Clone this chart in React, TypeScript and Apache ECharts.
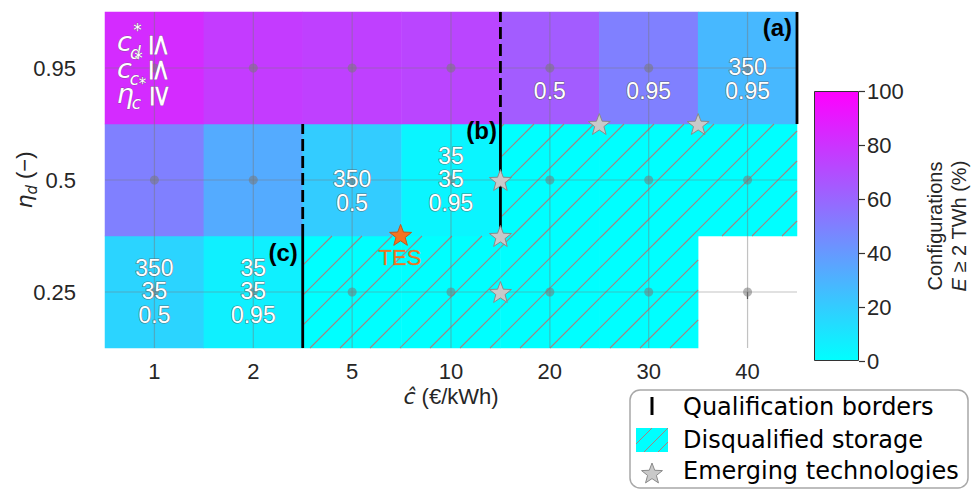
import React, { useEffect, useRef } from 'react';
import * as echarts from 'echarts';

// ---------- data ----------
const xCategories = ['1', '2', '5', '10', '20', '30', '40'];
const yCategories = ['0.25', '0.5', '0.95'];
// share of configurations with E >= 2 TWh (%), per row (eta_d)
const row025: (number | null)[] = [17, 6, 0, 0, 0, 0, null];
const row05: (number | null)[] = [50, 33, 20, 4, 0, 0, 0];
const row095: (number | null)[] = [83, 77, 75, 73, 64, 50, 28];
// disqualified cells [xIndex, yIndex]
const hatchedCells = [[4, 1], [5, 1], [6, 1], [2, 0], [3, 0], [4, 0], [5, 0]];
// qualification borders [x (between categories), yFrom, yTo, dashed]
const borderLines = [
  [3.5, 1.5, 2.5, 1],
  [6.5, 1.5, 2.5, 0],
  [1.5, 0.5, 1.5, 1],
  [3.5, 0.5, 1.5, 0],
  [1.5, -0.5, 0.5, 0],
];
// thresholds written in the cells: c_d*, c_c*, eta_c
const cellTexts = [
  { x: 0, y: 0, lines: ['350', '35', '0.5'] },
  { x: 1, y: 0, lines: ['35', '35', '0.95'] },
  { x: 2, y: 1, lines: ['', '350', '0.5'] },
  { x: 3, y: 1, lines: ['35', '35', '0.95'] },
  { x: 4, y: 2, lines: ['', '', '0.5'] },
  { x: 5, y: 2, lines: ['', '', '0.95'] },
  { x: 6, y: 2, lines: ['', '350', '0.95'] },
];
const emergingTech = [[4.5, 1.5], [5.5, 1.5], [3.5, 1], [3.5, 0.5], [3.5, 0]];
const tesPoint = [2.49, 0.51];
const tesLabel = { text: 'TES', x: 2.484, y: 0.31 };
const panelLabels = [
  { text: '(a)', x: 6.45, y: 2.36 },
  { text: '(b)', x: 3.465, y: 1.44 },
  { text: '(c)', x: 1.45, y: 0.35 },
];
const colorbarMin = 0;
const colorbarMax = 100;
const colorbarStep = 20;
const legendItems = ['Qualification borders', 'Disqualified storage', 'Emerging technologies'];

// ---------- helpers ----------
const STAR_D = (() => {
  const pts: string[] = [];
  for (let i = 0; i < 10; i++) {
    const r = i % 2 === 0 ? 1 : 0.42;
    const a = -Math.PI / 2 + (i * Math.PI) / 5;
    pts.push((r * Math.cos(a)).toFixed(4) + ',' + (r * Math.sin(a)).toFixed(4));
  }
  return 'M' + pts.join('L') + 'Z';
})();
const STAR = 'path://' + STAR_D;

const SANS = 'Liberation Sans, Arial, sans-serif';
const DEJAVU = 'DejaVu Sans, sans-serif';
const HATCH = '#a88080';

export default function App() {
  const ref = useRef<HTMLDivElement>(null);

  useEffect(() => {
    echarts.graphic.registerShape('starShape', echarts.graphic.extendPath(STAR_D, {}) as any);
    const chart = echarts.init(ref.current!, null, { renderer: 'svg' });

    const rows = [row025, row05, row095];
    const heatData: number[][] = [];
    rows.forEach((row, yi) =>
      row.forEach((v, xi) => {
        if (v !== null) heatData.push([xi, yi, v]);
      })
    );
    const dots: number[][] = [];
    yCategories.forEach((_, yi) => xCategories.forEach((__, xi) => dots.push([xi, yi])));

    const legendText = (text: string, y: number) => ({
      type: 'text',
      x: 683,
      y,
      style: { text, fontSize: 24, fontFamily: DEJAVU, fill: '#000', verticalAlign: 'middle' },
    });

    const option: any = {
      animation: false,
      backgroundColor: '#ffffff',
      textStyle: { fontFamily: SANS },
      grid: [
        { left: 105, top: 12, width: 692, height: 336, outerBoundsMode: 'none', containLabel: false },
        { left: 814, top: 91, width: 45, height: 270, outerBoundsMode: 'none', containLabel: false },
      ],
      xAxis: [
        {
          type: 'category',
          gridIndex: 0,
          data: xCategories,
          axisLine: { show: false },
          axisTick: { show: true, alignWithLabel: true, length: 7, lineStyle: { color: '#333', width: 1.2 } },
          axisLabel: { fontSize: 22, color: '#262626', margin: 12, fontFamily: SANS },
          splitLine: { show: false },
          name: '{i|ĉ}{n| (€/kWh)}',
          nameLocation: 'middle',
          nameGap: 37,
          nameMoveOverlap: false,
          nameTextStyle: {
            rich: {
              i: { fontSize: 22, fontStyle: 'italic', fontFamily: DEJAVU, color: '#262626' },
              n: { fontSize: 22, fontFamily: SANS, color: '#262626' },
            },
          },
        },
        { type: 'value', gridIndex: 0, min: -0.5, max: 6.5, show: false },
        { type: 'category', gridIndex: 1, data: ['cb'], show: false },
      ],
      yAxis: [
        {
          type: 'category',
          gridIndex: 0,
          data: yCategories,
          axisLine: { show: false },
          axisTick: { show: true, alignWithLabel: true, length: 8, lineStyle: { color: '#333', width: 1.2 } },
          axisLabel: { fontSize: 22, color: '#262626', margin: 29, fontFamily: SANS },
          splitLine: { show: false },
          name: '{i|η}{s|d}{n| (−)}',
          nameLocation: 'middle',
          nameRotate: 90,
          nameGap: 66,
          nameMoveOverlap: false,
          nameTextStyle: {
            rich: {
              i: { fontSize: 22, fontStyle: 'italic', fontFamily: DEJAVU, color: '#262626', lineHeight: 30, verticalAlign: 'middle' },
              s: { fontSize: 15, fontStyle: 'italic', fontFamily: DEJAVU, color: '#262626', lineHeight: 14, verticalAlign: 'bottom' },
              n: { fontSize: 22, fontFamily: SANS, color: '#262626', lineHeight: 30, verticalAlign: 'middle' },
            },
          },
        },
        { type: 'value', gridIndex: 0, min: -0.5, max: 2.5, show: false },
        {
          type: 'value',
          gridIndex: 1,
          min: colorbarMin,
          max: colorbarMax,
          interval: colorbarStep,
          position: 'right',
          axisLine: { show: false },
          axisTick: { show: true, length: 6, lineStyle: { color: '#333', width: 1.2 } },
          axisLabel: { fontSize: 22, color: '#262626', margin: 8, fontFamily: SANS },
          splitLine: { show: false },
          name: '{n|Configurations}\n{i|E}{n| ≥ 2 TWh (%)}',
          nameLocation: 'middle',
          nameRotate: 90,
          nameGap: 64,
          nameMoveOverlap: false,
          nameTextStyle: {
            rich: {
              n: { fontSize: 20, fontFamily: SANS, color: '#262626', lineHeight: 24 },
              i: { fontSize: 20, fontStyle: 'italic', fontFamily: SANS, color: '#262626', lineHeight: 24 },
            },
          },
        },
      ],
      visualMap: {
        type: 'continuous',
        show: false,
        min: colorbarMin,
        max: colorbarMax,
        dimension: 2,
        seriesIndex: 0,
        inRange: { color: ['#00ffff', '#ff00ff'] },
      },
      series: [
        {
          type: 'heatmap',
          xAxisIndex: 0,
          yAxisIndex: 0,
          data: heatData,
          z: 1,
          itemStyle: { borderWidth: 0 },
          emphasis: { disabled: true },
          silent: true,
        },
        {
          type: 'custom',
          xAxisIndex: 1,
          yAxisIndex: 1,
          z: 2,
          silent: true,
          data: hatchedCells,
          renderItem: (params: any, api: any) => {
            const xi = api.value(0);
            const yi = api.value(1);
            const tl = api.coord([xi - 0.5, yi + 0.5]);
            const br = api.coord([xi + 0.5, yi - 0.5]);
            const x0 = tl[0], y0 = tl[1], x1 = br[0], y1 = br[1];
            const s = 30;
            const off = 28;
            const children: any[] = [];
            for (let c = Math.ceil((x0 + y0 - off) / s) * s + off; c <= x1 + y1; c += s) {
              const xa = Math.max(x0, c - y1);
              const xb = Math.min(x1, c - y0);
              if (xb > xa) {
                children.push({
                  type: 'line',
                  shape: { x1: xa, y1: c - xa, x2: xb, y2: c - xb },
                  style: { stroke: HATCH, lineWidth: 1.1 },
                });
              }
            }
            return { type: 'group', children };
          },
        },
        {
          type: 'custom',
          xAxisIndex: 1,
          yAxisIndex: 1,
          z: 3,
          silent: true,
          data: [[0, 0]],
          renderItem: (params: any, api: any) => {
            const children: any[] = [];
            const st = { stroke: 'rgba(120,120,120,0.45)', lineWidth: 1.2 };
            xCategories.forEach((_, xi) => {
              const a = api.coord([xi, -0.5]);
              const b = api.coord([xi, 2.5]);
              children.push({ type: 'line', shape: { x1: a[0], y1: a[1], x2: b[0], y2: b[1] }, style: st });
            });
            yCategories.forEach((_, yi) => {
              const a = api.coord([-0.5, yi]);
              const b = api.coord([6.5, yi]);
              children.push({ type: 'line', shape: { x1: a[0], y1: a[1], x2: b[0], y2: b[1] }, style: st });
            });
            return { type: 'group', children };
          },
        },
        {
          type: 'scatter',
          xAxisIndex: 0,
          yAxisIndex: 0,
          z: 4,
          silent: true,
          data: dots,
          symbol: 'circle',
          symbolSize: 9,
          itemStyle: { color: 'rgba(120,120,120,0.55)', opacity: 1 },
        },
        {
          type: 'custom',
          xAxisIndex: 1,
          yAxisIndex: 1,
          z: 5,
          silent: true,
          data: borderLines,
          renderItem: (params: any, api: any) => {
            const a = api.coord([api.value(0), api.value(1)]);
            const b = api.coord([api.value(0), api.value(2)]);
            return {
              type: 'line',
              shape: { x1: a[0], y1: a[1], x2: b[0], y2: b[1] },
              style: { stroke: '#000', lineWidth: 2.8, lineDash: api.value(3) ? [12, 5] : null },
            };
          },
        },
        {
          type: 'custom',
          xAxisIndex: 1,
          yAxisIndex: 1,
          z: 6,
          silent: true,
          data: cellTexts.map((c, i) => [c.x, c.y, i]),
          renderItem: (params: any, api: any) => {
            const p = api.coord([api.value(0), api.value(1)]);
            const item = cellTexts[api.value(2)];
            const offsets = [-24, -1, 23];
            const children: any[] = [];
            item.lines.forEach((t, k) => {
              if (!t) return;
              children.push({
                type: 'text',
                x: p[0],
                y: p[1] + offsets[k],
                style: {
                  text: t,
                  fill: '#ffffff',
                  stroke: 'rgba(90,90,90,0.75)',
                  lineWidth: 1.2,
                  fontSize: 23,
                  fontFamily: SANS,
                  align: 'center',
                  verticalAlign: 'middle',
                },
              });
            });
            return { type: 'group', children };
          },
        },
        {
          type: 'custom',
          xAxisIndex: 1,
          yAxisIndex: 1,
          z: 6,
          silent: true,
          data: [[0, 2]],
          renderItem: (params: any, api: any) => {
            const p = api.coord([api.value(0), api.value(1)]);
            const W = { fill: '#ffffff', stroke: 'rgba(90,90,90,0.6)', lineWidth: 0.8, fontFamily: DEJAVU, align: 'center', verticalAlign: 'middle' };
            const t = (text: string, dx: number, dy: number, size: number, italic: boolean, rot = 0) => ({
              type: 'text',
              x: p[0] + dx,
              y: p[1] + dy,
              rotation: rot,
              style: { ...W, text, fontSize: size, fontStyle: italic ? 'italic' : 'normal' },
            });
            const R = -Math.PI / 2;
            return {
              type: 'group',
              children: [
                t('c', -30, -27, 27, true),
                t('*', -17, -38, 17, false),
                t('d', -19, -15, 17, true),
                t('≤', 6, -23, 30, false, R),
                t('c', -30, 0, 27, true),
                t('*', -16, -10, 17, false),
                t('c', -20, 11, 17, true),
                t('*', -12, 16, 15, false),
                t('≤', 6, 2, 30, false, R),
                t('η', -29, 25, 27, true),
                t('c', -18, 35, 17, true),
                t('≥', 7, 28, 30, false, R),
              ],
            };
          },
        },
        {
          type: 'custom',
          xAxisIndex: 1,
          yAxisIndex: 1,
          z: 6,
          silent: true,
          data: panelLabels.map((l, i) => [l.x, l.y, i]),
          renderItem: (params: any, api: any) => {
            const p = api.coord([api.value(0), api.value(1)]);
            return {
              type: 'text',
              x: p[0],
              y: p[1],
              style: {
                text: panelLabels[api.value(2)].text,
                fill: '#000',
                fontSize: 24,
                fontWeight: 'bold',
                fontFamily: SANS,
                align: 'right',
                verticalAlign: 'middle',
              },
            };
          },
        },
        {
          type: 'custom',
          xAxisIndex: 1,
          yAxisIndex: 1,
          z: 6,
          silent: true,
          data: [[tesLabel.x, tesLabel.y]],
          renderItem: (params: any, api: any) => {
            const p = api.coord([api.value(0), api.value(1)]);
            return {
              type: 'text',
              x: p[0],
              y: p[1],
              style: {
                text: tesLabel.text,
                fill: '#f07522',
                stroke: 'rgba(190,85,20,0.45)',
                lineWidth: 0.6,
                fontSize: 22,
                fontFamily: SANS,
                align: 'center',
                verticalAlign: 'middle',
              },
            };
          },
        },
        {
          type: 'scatter',
          xAxisIndex: 1,
          yAxisIndex: 1,
          z: 7,
          silent: true,
          data: emergingTech,
          symbol: STAR,
          symbolKeepAspect: true,
          symbolSize: 22,
          itemStyle: { color: '#c9c9c9', borderColor: '#8a8a8a', borderWidth: 1, opacity: 1 },
        },
        {
          type: 'scatter',
          xAxisIndex: 1,
          yAxisIndex: 1,
          z: 7,
          silent: true,
          data: [tesPoint],
          symbol: STAR,
          symbolKeepAspect: true,
          symbolSize: 22,
          itemStyle: { color: '#f47321', borderColor: '#c0591c', borderWidth: 1, opacity: 1 },
        },
        {
          type: 'bar',
          xAxisIndex: 2,
          yAxisIndex: 2,
          silent: true,
          data: [colorbarMax],
          barWidth: '100%',
          itemStyle: {
            color: new echarts.graphic.LinearGradient(0, 1, 0, 0, [
              { offset: 0, color: '#00ffff' },
              { offset: 1, color: '#ff00ff' },
            ]),
            borderColor: '#333',
            borderWidth: 1,
          },
        },
      ],
      graphic: [
        {
          type: 'group',
          z: 100,
          children: [
            {
              type: 'rect',
              shape: { x: 630, y: 390, width: 338, height: 98, r: 10 },
              style: { fill: '#ffffff', stroke: '#a8a8a8', lineWidth: 1.5 },
            },
            { type: 'line', shape: { x1: 652, y1: 397, x2: 652, y2: 415 }, style: { stroke: '#000', lineWidth: 3 } },
            legendText(legendItems[0], 407),
            { type: 'rect', shape: { x: 636, y: 428, width: 32, height: 24 }, style: { fill: '#00ffff' } },
            { type: 'line', shape: { x1: 636, y1: 444, x2: 652, y2: 428 }, style: { stroke: HATCH, lineWidth: 1 } },
            { type: 'line', shape: { x1: 644, y1: 452, x2: 668, y2: 428 }, style: { stroke: HATCH, lineWidth: 1 } },
            { type: 'line', shape: { x1: 658, y1: 452, x2: 668, y2: 442 }, style: { stroke: HATCH, lineWidth: 1 } },
            legendText(legendItems[1], 440),
            {
              type: 'starShape',
              x: 652,
              y: 474,
              scaleX: 11,
              scaleY: 11,
              style: { fill: '#c9c9c9', stroke: '#8a8a8a', lineWidth: 1, strokeNoScale: true },
            },
            legendText(legendItems[2], 471),
          ],
        },
      ],
    };

    chart.setOption(option);
    return () => chart.dispose();
  }, []);

  return (
    <div
      ref={ref}
      style={{ position: 'fixed', left: 0, top: 0, width: 974, height: 491, background: '#ffffff' }}
    />
  );
}
